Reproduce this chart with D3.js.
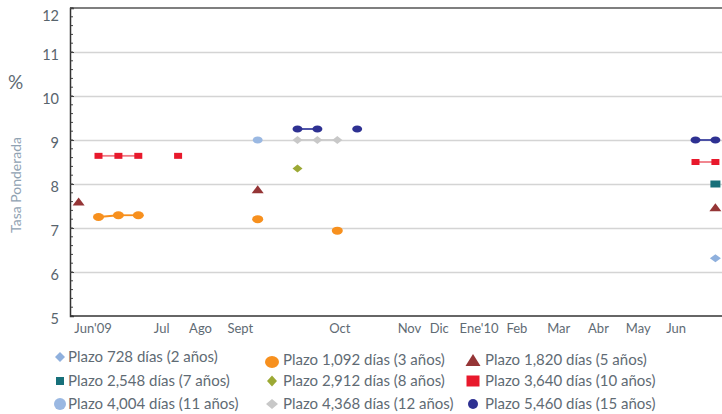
<!DOCTYPE html>
<html>
<head>
<meta charset="utf-8">
<script src="https://cdn.jsdelivr.net/npm/d3@7"></script>
<style>
  body { margin: 0; background: #fff; }
  svg text { font-family: Lato, "Open Sans", sans-serif; fill: #5f6b74; }
</style>
</head>
<body>
<div id="chart"></div>
<script>
// auction slots along the x axis (index 0..32)
var slotCount = 33;
var monthLabels = ["Jun'09", "Jul", "Ago", "Sept", "Oct", "Nov", "Dic", "Ene'10", "Feb", "Mar", "Abr", "May", "Jun"];
var monthSlots  = [0.7, 4.15, 6.1, 8.1, 13.1, 16.6, 18.1, 20.1, 22.0, 24.1, 26.1, 28.1, 30.0];
var yTicks = [5, 6, 7, 8, 9, 10, 11, 12];

// [slot, rate %]
var plazo728  = [[32, 6.31]];
var plazo1092 = [[1, 7.25], [2, 7.29], [3, 7.29], [9, 7.20], [13, 6.94]];
var plazo1820 = [[0, 7.60], [9, 7.88], [32, 7.47]];
var plazo2548 = [[32, 8.00]];
var plazo2912 = [[11, 8.35]];
var plazo3640 = [[1, 8.64], [2, 8.64], [3, 8.64], [5, 8.64], [31, 8.50], [32, 8.50]];
var plazo4004 = [[9, 9.00]];
var plazo4368 = [[11, 9.00], [12, 9.00], [13, 9.00]];
var plazo5460 = [[11, 9.25], [12, 9.25], [14, 9.25], [31, 9.00], [32, 9.00]];

var series = [
  {name: "Plazo 728 días (2 años)",    data: plazo728,  shape: "diamond",  color: "#8fb0dd", line: null,      mk: [11, 8],  lg: [10, 10], col: 0, row: 0},
  {name: "Plazo 1,092 días (3 años)",  data: plazo1092, shape: "circle",   color: "#f7901e", line: "#f7901e", mk: [11, 8],  lg: [14, 12], col: 1, row: 0},
  {name: "Plazo 1,820 días (5 años)",  data: plazo1820, shape: "triangle", color: "#953536", line: null,      mk: [12, 8],  lg: [15, 12], col: 2, row: 0},
  {name: "Plazo 2,548 días (7 años)",  data: plazo2548, shape: "square",   color: "#17707a", line: null,      mk: [10, 7],  lg: [8, 8],   col: 0, row: 1},
  {name: "Plazo 2,912 días (8 años)",  data: plazo2912, shape: "diamond",  color: "#9ca935", line: null,      mk: [10, 8],  lg: [10, 11], col: 1, row: 1},
  {name: "Plazo 3,640 días (10 años)", data: plazo3640, shape: "square",   color: "#e8192c", line: "#f07a84", mk: [8, 6],   lg: [13, 11], col: 2, row: 1},
  {name: "Plazo 4,004 días (11 años)", data: plazo4004, shape: "circle",   color: "#9ab8e2", line: null,      mk: [10, 7],  lg: [12, 12], col: 0, row: 2},
  {name: "Plazo 4,368 días (12 años)", data: plazo4368, shape: "diamond",  color: "#c8c8c8", line: "#cccccc", mk: [10, 8],  lg: [12, 10], col: 1, row: 2},
  {name: "Plazo 5,460 días (15 años)", data: plazo5460, shape: "circle",   color: "#2e3192", line: "#3d42a0", mk: [10, 7],  lg: [10, 10], col: 2, row: 2}
];

var W = 722, H = 414;
var axisLeftX = 70, plotRight = 722;
var svg = d3.select("#chart").append("svg").attr("width", W).attr("height", H);

var x = d3.scaleLinear().domain([0, slotCount - 1]).range([78.6, 715.4]);
var y = d3.scaleLinear().domain([5, 12]).range([316, 8]);

// gridlines
svg.append("g")
  .attr("transform", "translate(" + axisLeftX + ",0)")
  .call(d3.axisLeft(y).tickValues(yTicks.slice(1, -1)).tickSize(-(plotRight - axisLeftX)).tickFormat(""))
  .call(function(g){
    g.select(".domain").remove();
    g.selectAll("line").attr("stroke", "#d4d4d4").attr("stroke-width", 1.5);
  });

// top border
svg.append("line")
  .attr("x1", axisLeftX).attr("x2", plotRight)
  .attr("y1", y(12)).attr("y2", y(12))
  .attr("stroke", "#555").attr("stroke-width", 1.5);

// minor ticks, inside
var minor = d3.range(5, 12.01, 0.2);
svg.append("g").selectAll("line").data(minor).enter().append("line")
  .attr("x1", axisLeftX).attr("x2", axisLeftX + 3)
  .attr("y1", function(d){ return y(d); }).attr("y2", function(d){ return y(d); })
  .attr("stroke", "#444").attr("stroke-width", 1);

// y axis
svg.append("g")
  .attr("transform", "translate(" + axisLeftX + ",0)")
  .call(d3.axisLeft(y).tickValues(yTicks).tickSize(-4).tickPadding(11).tickFormat(d3.format("d")))
  .call(function(g){
    g.select(".domain").attr("stroke", "#333").attr("stroke-width", 1.5);
    g.selectAll("line").attr("stroke", "#444");
    g.selectAll("text")
      .style("font-size", "14.5px").style("fill", "#58646d")
      .attr("dy", function(d){ return d === 12 ? "0.85em" : "0.5em"; });
  });

// x axis
svg.append("g")
  .attr("transform", "translate(0,316)")
  .call(d3.axisBottom(x).tickValues(monthSlots).tickSize(0).tickPadding(8)
    .tickFormat(function(d, i){ return monthLabels[i]; }))
  .call(function(g){
    g.select(".domain").remove();
    g.selectAll("text").style("font-size", "13px").style("fill", "#5f6b74");
  });
svg.append("line")
  .attr("x1", axisLeftX).attr("x2", plotRight).attr("y1", 316).attr("y2", 316)
  .attr("stroke", "#333").attr("stroke-width", 1.5);

// axis titles
svg.append("text").attr("x", 8).attr("y", 89).text("%")
  .style("font-size", "19px").style("fill", "#5f6b74");
svg.append("text")
  .attr("transform", "translate(21,185) rotate(-90)")
  .attr("text-anchor", "middle")
  .text("Tasa Ponderada")
  .style("font-size", "14px").style("fill", "#90a2b2");

// marker shapes in a unit box (-0.5..0.5), scaled per series
function shapePath(shape){
  if (shape === "circle") return d3.symbol().type(d3.symbolCircle).size(Math.PI * 0.25)();
  if (shape === "square") return "M-0.5,-0.5H0.5V0.5H-0.5Z";
  if (shape === "diamond") return "M0,-0.5L0.5,0L0,0.5L-0.5,0Z";
  return "M0,-0.5L0.5,0.5L-0.5,0.5Z";
}

// connecting lines between neighbouring slots
series.forEach(function(s){
  if (!s.line) return;
  for (var i = 1; i < s.data.length; i++){
    if (s.data[i][0] - s.data[i - 1][0] !== 1) continue;
    svg.append("line")
      .attr("x1", x(s.data[i - 1][0])).attr("y1", y(s.data[i - 1][1]))
      .attr("x2", x(s.data[i][0])).attr("y2", y(s.data[i][1]))
      .attr("stroke", s.line).attr("stroke-width", 1.8);
  }
});

// markers
series.forEach(function(s){
  svg.append("g").selectAll("path").data(s.data).enter().append("path")
    .attr("d", shapePath(s.shape))
    .attr("transform", function(d){
      return "translate(" + x(d[0]) + "," + y(d[1]) + ") scale(" + s.mk[0] + "," + s.mk[1] + ")";
    })
    .attr("fill", s.color);
});

// legend
var legMarkX = [60, 272, 473], legTextX = [68, 283, 485];
var legRowY = [357, 381, 404];
var legend = svg.append("g");
series.forEach(function(s){
  var cy = legRowY[s.row] + (s.row === 0 && s.col > 0 ? 3 : 0);
  legend.append("path")
    .attr("d", shapePath(s.shape))
    .attr("transform", "translate(" + legMarkX[s.col] + "," + (cy + (s.col === 1 && s.row === 0 ? 2 : 0)) + ") scale(" + s.lg[0] + "," + s.lg[1] + ")")
    .attr("fill", s.color);
  legend.append("text")
    .attr("x", legTextX[s.col]).attr("y", cy).attr("dy", "0.35em")
    .text(s.name)
    .style("font-size", "15px").style("fill", "#5f6b74");
});
</script>
</body>
</html>
